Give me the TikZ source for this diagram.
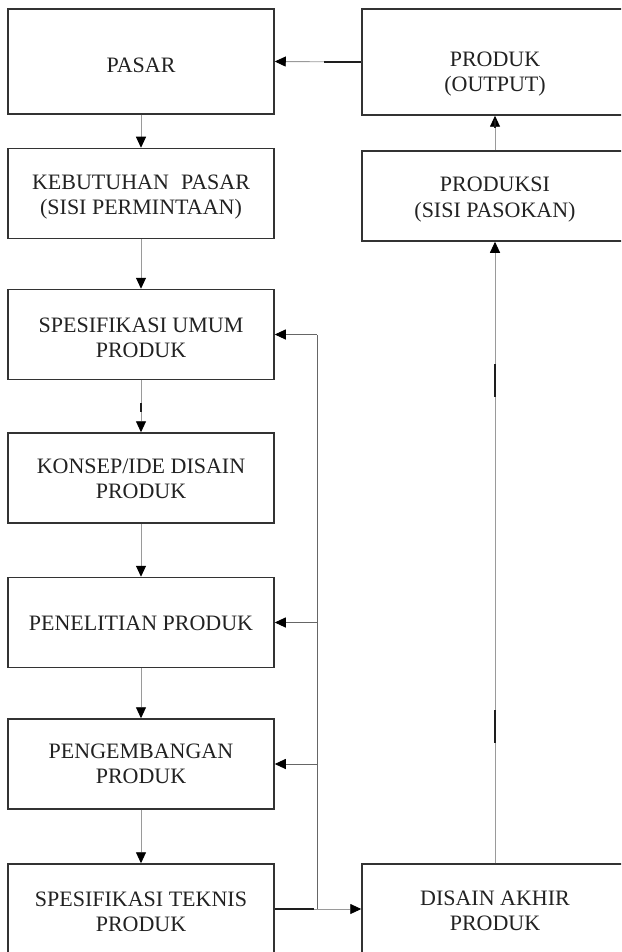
\documentclass[tikz,border=0pt]{standalone}
\usepackage{fontspec}
\setmainfont{Liberation Serif}
\usetikzlibrary{arrows.meta,calc}
\definecolor{boxline}{HTML}{333333}
\definecolor{wire}{HTML}{9A9A9A}
\definecolor{wirefb}{HTML}{666666}
\definecolor{wiredark}{HTML}{1E1E1E}
\definecolor{ink}{HTML}{222222}
% centred lines of a box label, set #1 lower than the box centre
\newcommand\stagetext[2]{\raisebox{-#1}[\height][\depth]{\begin{tabular}{@{}c@{}}#2\end{tabular}}}
\begin{document}
\begin{tikzpicture}[x=1pt,y=-1pt,
  stage/.style={draw=boxline, line width=1.5pt, minimum width=266pt,
    minimum height=90pt, inner sep=0pt,
    font=\fontsize{22}{25}\selectfont, text=ink},
  wire/.style={draw=wire, line width=0.9pt},
  fbwire/.style={draw=wirefb, line width=0.9pt},
  heavy/.style={draw=wiredark, line width=1.3pt},
  tip/.style={-{Triangle[length=11pt,width=10pt,color=black]}},
  flow/.style={wire, tip},
  fbflow/.style={fbwire, tip}
]
\useasboundingbox (0,0) rectangle (621,952);
\clip (0,0) rectangle (621,952);
\fill[white] (0,0) rectangle (621,952);

% demand side (left column)
\node[stage, minimum height=105pt] (pasar) at (141,61.5) {\stagetext{6.5pt}{PASAR}};
\node[stage] (kebutuhan) at (141,193.5) {\stagetext{4pt}{KEBUTUHAN\hspace{0.3em} PASAR\\(SISI PERMINTAAN)}};
\node[stage] (umum) at (141,334.5) {\stagetext{5pt}{SPESIFIKASI UMUM\\PRODUK}};
\node[stage] (konsep) at (141,478) {\stagetext{2.5pt}{KONSEP/IDE DISAIN\\PRODUK}};
\node[stage] (penelitian) at (141,622.5) {\stagetext{2.5pt}{PENELITIAN PRODUK}};
\node[stage] (pengembangan) at (141,764) {\stagetext{1.5pt}{PENGEMBANGAN\\PRODUK}};
\node[stage] (teknis) at (141,909) {\stagetext{4.5pt}{SPESIFIKASI TEKNIS\\PRODUK}};

% supply side (right column)
\node[stage, minimum height=106pt] (output) at (495,62) {\stagetext{12pt}{PRODUK\\(OUTPUT)}};
\node[stage] (produksi) at (495,196) {\stagetext{3.5pt}{PRODUKSI\\(SISI PASOKAN)}};
\node[stage] (akhir) at (495,909) {\stagetext{3.5pt}{DISAIN AKHIR\\PRODUK}};

% main flow down the left column
\draw[flow] (pasar) -- (kebutuhan);
\draw[flow] (kebutuhan) -- (umum);
\draw[flow] (umum) -- (konsep);
\draw[flow] (konsep) -- (penelitian);
\draw[flow] (penelitian) -- (pengembangan);
\draw[flow] (pengembangan) -- (teknis);

% final design up to production and output, back to the market
\draw[flow] (akhir) -- (produksi);
\draw[flow] (produksi) -- (output);
\draw[flow] (output.west) -- (pasar.east);
\draw[heavy] (output.west) -- ++(-37,0);

% technical specification to final design, with feedback loop
\coordinate (fb) at ($(teknis.east)!0.49!(akhir.west)$);
\draw[flow] (teknis.east) -- (akhir.west);
\draw[heavy] (teknis.east) -- ++(39,0);
\draw[fbwire] (fb) -- (fb |- umum.east);
\draw[fbflow] (fb |- umum.east) -- (umum.east);
\draw[fbflow] (fb |- penelitian.east) -- (penelitian.east);
\draw[fbflow] (fb |- pengembangan.east) -- (pengembangan.east);

% darker strokes along the connectors
\draw[heavy, line width=1.1pt] (141,403) -- (141,412);
\draw[heavy, line width=1.1pt] (495,120) -- (495,128);
\draw[heavy, line width=1.1pt] (495,364) -- (495,397);
\draw[heavy, line width=1.1pt] (495,710) -- (495,743);
\end{tikzpicture}
\end{document}
